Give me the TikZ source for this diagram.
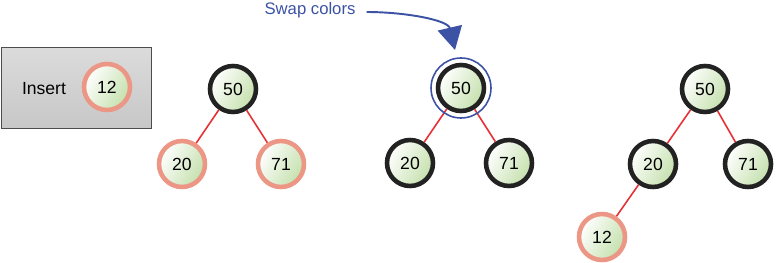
\documentclass[tikz,border=0pt]{standalone}
\usepackage{fontspec}
\setmainfont{Liberation Sans}
\usepackage{tikz}
\usetikzlibrary{arrows.meta, positioning}
\definecolor{leaf-green}{RGB}{196, 224, 172}
\definecolor{node-black}{RGB}{34, 34, 34}
\definecolor{node-salmon}{RGB}{236, 150, 134}
\definecolor{edge-red}{RGB}{232, 48, 52}
\definecolor{note-blue}{RGB}{60, 82, 164}

\begin{document}
\begin{tikzpicture}[x=0.02cm, y=-0.02cm,
        key/.style={circle, minimum size=0.92cm, inner sep=0pt,
                    line width=2.6pt, left color=white, right color=leaf-green,
                    shading angle=60, font=\fontsize{10}{12}\selectfont},
        blacknode/.style={key, draw=node-black},
        rednode/.style={key, draw=node-salmon},
        edge/.style={draw=edge-red, line width=0.9pt},
        note/.style={font=\fontsize{9.5}{11}\selectfont, text=note-blue}
      ]
        \useasboundingbox (0,0) rectangle (777,263);

        % insert panel
        \node[draw=black!70, line width=0.6pt, top color=black!14, bottom color=black!22,
              minimum width=3cm, minimum height=1.62cm, anchor=north west] (panel) at (1,47) {};
        \node[font=\fontsize{10}{12}\selectfont] (ins) at (44,89) {Insert};
        \node[rednode] (new) at (107,87) {12};

        % first tree: 12 not yet placed
        \node[blacknode] (a50) at (233,89) {50};
        \node[rednode] (a20) at (182,164) {20};
        \node[rednode] (a71) at (281,164) {71};
        \draw[edge] (a50) -- (a20);
        \draw[edge] (a50) -- (a71);

        % second tree: colours swapped
        \node[blacknode] (b50) at (461,88) {50};
        \node[blacknode] (b20) at (410,163) {20};
        \node[blacknode] (b71) at (509,163) {71};
        \draw[edge] (b50) -- (b20);
        \draw[edge] (b50) -- (b71);
        \draw[note-blue, line width=0.9pt] (b50.center) circle (30);

        \node[note] (swap) at (310,10) {Swap colors};
        \coordinate (tip) at (455,50);
        \draw[note-blue, line width=1.1pt, -{Triangle[length=13pt, width=14pt]}]
              (swap.east) ++(5,2) .. controls (405,12) and (448,20) .. (tip);

        % third tree: 12 attached under 20
        \node[blacknode] (c50) at (705,89) {50};
        \node[blacknode] (c20) at (653,164) {20};
        \node[blacknode] (c71) at (748,164) {71};
        \node[rednode] (c12) at (602,237) {12};
        \draw[edge] (c50) -- (c20);
        \draw[edge] (c50) -- (c71);
        \draw[edge] (c20) -- (c12);
      \end{tikzpicture}
\end{document}
